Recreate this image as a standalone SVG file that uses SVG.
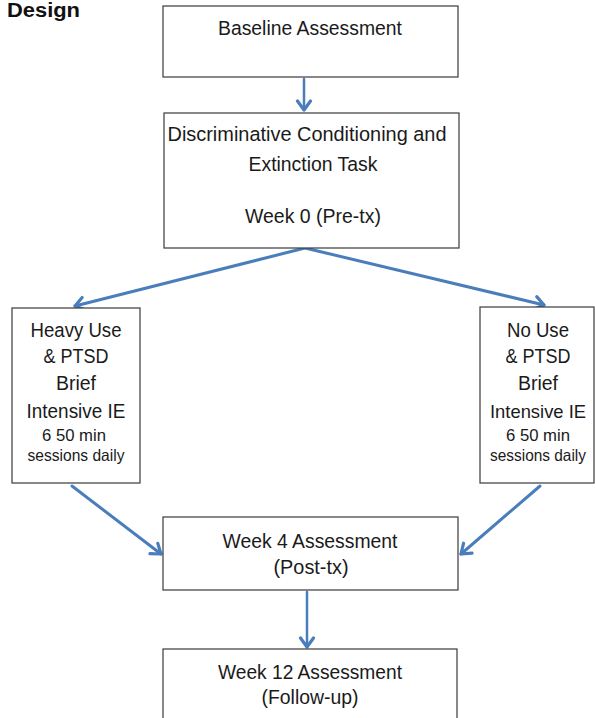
<svg xmlns="http://www.w3.org/2000/svg" width="595" height="718" viewBox="0 0 595 718">
<style>
.box{fill:#fff;stroke:#3a3a3a;stroke-width:1.2}
.t{font-family:"Liberation Sans",Arial,sans-serif;font-size:20.5px;fill:#1a1a1a;text-anchor:middle}
.n{font-size:19px}
.s{font-family:"Liberation Sans",Arial,sans-serif;font-size:16.5px;fill:#1a1a1a;text-anchor:middle}
.title{font-family:"Liberation Sans",Arial,sans-serif;font-size:20px;font-weight:bold;fill:#111}
.c{fill:none;stroke:#4a7ebb;stroke-width:3;stroke-linecap:round}
.v{stroke-width:2.5}
</style>
<defs>
<marker id="ah" markerWidth="18" markerHeight="18" refX="11" refY="9" orient="auto" markerUnits="userSpaceOnUse">
<polyline points="2,2.5 11,9 2,15.5" fill="none" stroke="#4a7ebb" stroke-width="3.2" stroke-linecap="round" stroke-linejoin="round"/>
</marker>
</defs>
<rect width="595" height="718" fill="#fff"/>
<text class="title" x="7" y="17" textLength="73" lengthAdjust="spacingAndGlyphs">Design</text>
<g id="connectors">
<line class="c v" x1="304" y1="79" x2="304" y2="110" marker-end="url(#ah)"/>
<line class="c" x1="305" y1="248" x2="75" y2="306" marker-end="url(#ah)"/>
<line class="c" x1="305" y1="248" x2="544" y2="305" marker-end="url(#ah)"/>
<line class="c" x1="72" y1="486" x2="161" y2="554" marker-end="url(#ah)"/>
<line class="c" x1="540" y1="486" x2="461" y2="554" marker-end="url(#ah)"/>
<line class="c v" x1="307" y1="592" x2="307" y2="647" marker-end="url(#ah)"/>
</g>
<g id="baseline">
<rect class="box" x="163" y="6" width="295" height="71"/>
<text class="t" x="310" y="35" textLength="184" lengthAdjust="spacingAndGlyphs">Baseline Assessment</text>
</g>
<g id="task">
<rect class="box" x="164" y="113" width="295" height="135"/>
<text class="t" x="307" y="141" textLength="279" lengthAdjust="spacingAndGlyphs">Discriminative Conditioning and</text>
<text class="t" x="313" y="171" textLength="129" lengthAdjust="spacingAndGlyphs">Extinction Task</text>
<text class="t" x="313" y="223" textLength="136" lengthAdjust="spacingAndGlyphs">Week 0 (Pre-tx)</text>
</g>
<g id="heavy">
<rect class="box" x="12" y="308" width="128" height="175"/>
<text class="t" x="76" y="337" textLength="91" lengthAdjust="spacingAndGlyphs">Heavy Use</text>
<text class="t" x="76" y="363" textLength="65" lengthAdjust="spacingAndGlyphs">&amp; PTSD</text>
<text class="t" x="76" y="390" textLength="40" lengthAdjust="spacingAndGlyphs">Brief</text>
<text class="t" x="76" y="418" textLength="99" lengthAdjust="spacingAndGlyphs">Intensive IE</text>
<text class="s" x="74" y="441" textLength="64" lengthAdjust="spacingAndGlyphs">6 50 min</text>
<text class="s" x="76" y="461" textLength="97" lengthAdjust="spacingAndGlyphs">sessions daily</text>
</g>
<g id="nouse">
<rect class="box" x="480" y="307" width="114" height="176"/>
<text class="t" x="538" y="337" textLength="62" lengthAdjust="spacingAndGlyphs">No Use</text>
<text class="t" x="538" y="363" textLength="65" lengthAdjust="spacingAndGlyphs">&amp; PTSD</text>
<text class="t" x="538" y="390" textLength="40" lengthAdjust="spacingAndGlyphs">Brief</text>
<text class="t n" x="538" y="418" textLength="96" lengthAdjust="spacingAndGlyphs">Intensive IE</text>
<text class="s" x="538" y="441" textLength="64" lengthAdjust="spacingAndGlyphs">6 50 min</text>
<text class="s" x="538" y="461" textLength="96" lengthAdjust="spacingAndGlyphs">sessions daily</text>
</g>
<g id="week4">
<rect class="box" x="163" y="517" width="295" height="73"/>
<text class="t" x="310" y="548" textLength="175" lengthAdjust="spacingAndGlyphs">Week 4 Assessment</text>
<text class="t" x="311" y="574" textLength="75" lengthAdjust="spacingAndGlyphs">(Post-tx)</text>
</g>
<g id="week12">
<rect class="box" x="163" y="649" width="294" height="80"/>
<text class="t" x="310" y="679" textLength="184" lengthAdjust="spacingAndGlyphs">Week 12 Assessment</text>
<text class="t" x="310" y="704" textLength="97" lengthAdjust="spacingAndGlyphs">(Follow-up)</text>
</g>
</svg>
